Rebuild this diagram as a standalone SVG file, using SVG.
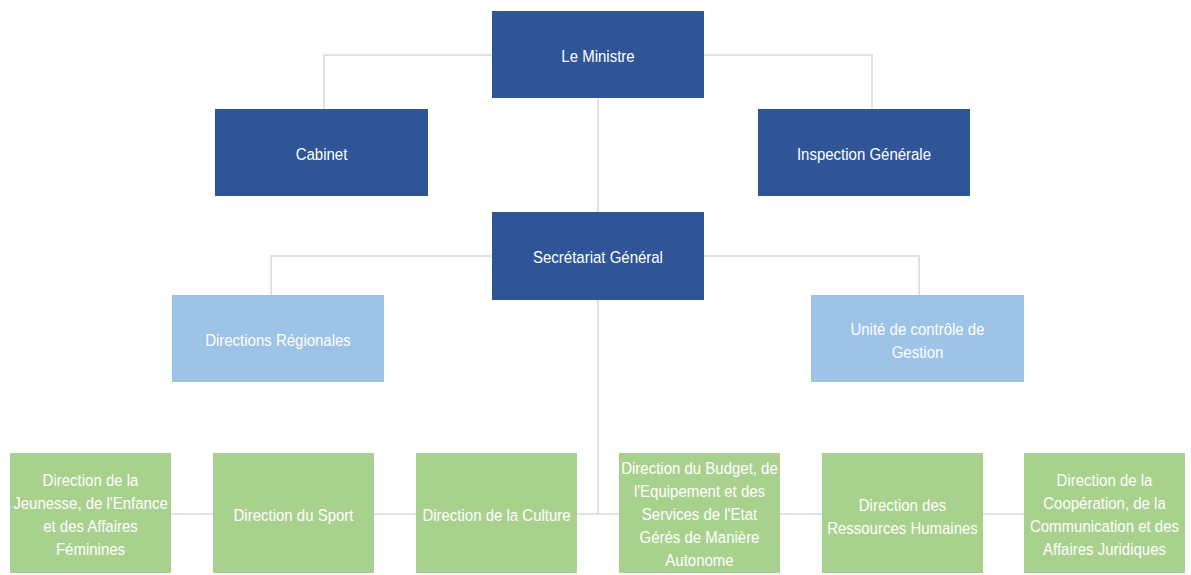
<svg xmlns="http://www.w3.org/2000/svg" width="1191" height="575" viewBox="0 0 1191 575">
  <style>
    .lvl1 { fill: #2F5597; }
    .lvl2 { fill: #9DC3E6; }
    .lvl3 { fill: #A9D18E; }
    .lbl { font-family: "Liberation Sans", Arial, sans-serif; font-size: 15px; fill: #FFFFFF; text-anchor: middle; transform-box: fill-box; transform-origin: center; transform: scaleY(1.12); }
    .conn { fill: none; stroke: #D9D9D9; stroke-width: 1.5; }
  </style>
  <rect width="1191" height="575" fill="#FFFFFF"/>
  <g id="connectors">
    <path class="conn" d="M492 55 H324 V109"/>
    <path class="conn" d="M704 55 H872 V109"/>
    <path class="conn" d="M598 98 V212"/>
    <path class="conn" d="M492 256 H271 V295"/>
    <path class="conn" d="M704 256 H919 V295"/>
    <path class="conn" d="M598 300 V514"/>
    <path class="conn" d="M171 514 H1024"/>
  </g>
  <g id="ministre">
    <rect class="lvl1" x="492" y="11" width="212" height="87"/>
    <text class="lbl" x="598" y="61">Le Ministre</text>
  </g>
  <g id="cabinet">
    <rect class="lvl1" x="215" y="109" width="213" height="87"/>
    <text class="lbl" x="321.5" y="159">Cabinet</text>
  </g>
  <g id="inspection">
    <rect class="lvl1" x="758" y="109" width="212" height="87"/>
    <text class="lbl" x="864" y="159">Inspection Générale</text>
  </g>
  <g id="secretariat">
    <rect class="lvl1" x="492" y="212" width="212" height="88"/>
    <text class="lbl" x="598" y="262">Secrétariat Général</text>
  </g>
  <g id="directions-regionales">
    <rect class="lvl2" x="172" y="295" width="212" height="87"/>
    <text class="lbl" x="278" y="345">Directions Régionales</text>
  </g>
  <g id="unite-controle">
    <rect class="lvl2" x="811" y="295" width="213" height="87"/>
    <text class="lbl" x="917.5" y="334">Unité de contrôle de</text>
    <text class="lbl" x="917.5" y="357">Gestion</text>
  </g>
  <g id="dir-jeunesse">
    <rect class="lvl3" x="10" y="453" width="161" height="120"/>
    <text class="lbl" x="90.5" y="485">Direction de la</text>
    <text class="lbl" x="90.5" y="508">Jeunesse, de l'Enfance</text>
    <text class="lbl" x="90.5" y="531">et des Affaires</text>
    <text class="lbl" x="90.5" y="554">Féminines</text>
  </g>
  <g id="dir-sport">
    <rect class="lvl3" x="213" y="453" width="161" height="120"/>
    <text class="lbl" x="293.5" y="520">Direction du Sport</text>
  </g>
  <g id="dir-culture">
    <rect class="lvl3" x="416" y="453" width="161" height="120"/>
    <text class="lbl" x="496.5" y="520">Direction de la Culture</text>
  </g>
  <g id="dir-budget">
    <rect class="lvl3" x="619" y="453" width="161" height="120"/>
    <text class="lbl" x="699.5" y="473">Direction du Budget, de</text>
    <text class="lbl" x="699.5" y="496">l'Equipement et des</text>
    <text class="lbl" x="699.5" y="519">Services de l'Etat</text>
    <text class="lbl" x="699.5" y="542">Gérés de Manière</text>
    <text class="lbl" x="699.5" y="565">Autonome</text>
  </g>
  <g id="dir-rh">
    <rect class="lvl3" x="822" y="453" width="161" height="120"/>
    <text class="lbl" x="902.5" y="510">Direction des</text>
    <text class="lbl" x="902.5" y="533">Ressources Humaines</text>
  </g>
  <g id="dir-cooperation">
    <rect class="lvl3" x="1024" y="453" width="161" height="120"/>
    <text class="lbl" x="1104.5" y="485">Direction de la</text>
    <text class="lbl" x="1104.5" y="508">Coopération, de la</text>
    <text class="lbl" x="1104.5" y="531">Communication et des</text>
    <text class="lbl" x="1104.5" y="554">Affaires Juridiques</text>
  </g>
</svg>
